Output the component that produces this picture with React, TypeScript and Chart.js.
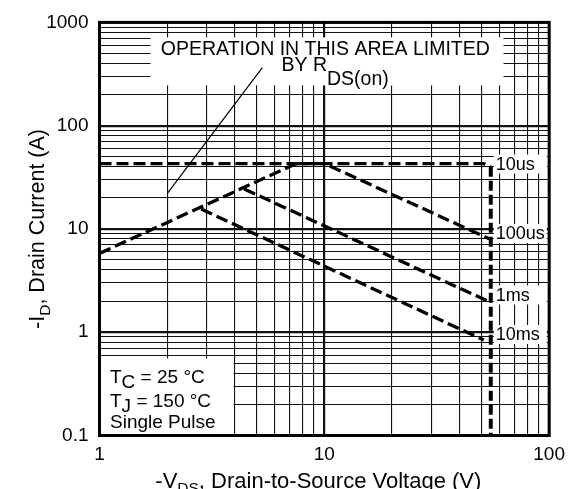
import React, { useEffect, useRef } from "react";
import { Chart, registerables } from "chart.js";

Chart.register(...registerables);

// ---- tick values ----
const X_TICKS = [1, 2, 3, 4, 5, 6, 7, 8, 9, 10, 20, 30, 40, 50, 60, 70, 80, 90, 100];
const Y_TICKS = [
  0.1, 0.2, 0.3, 0.4, 0.5, 0.6, 0.7, 0.8, 0.9,
  1, 2, 3, 4, 5, 6, 7, 8, 9,
  10, 20, 30, 40, 50, 60, 70, 80, 90,
  100, 200, 300, 400, 500, 600, 700, 800, 900, 1000,
];
const X_LABELS = [1, 10, 100];
const Y_LABELS = [0.1, 1, 10, 100, 1000];

// ---- series (V, A) ----
const RDS_LIMIT = [{ x: 1, y: 5.8 }, { x: 7.5, y: 43 }];
const PULSE_10US = [{ x: 1, y: 43 }, { x: 51, y: 43 }, { x: 55, y: 40 }];
const PULSE_10US_DROP = [{ x: 55, y: 40 }, { x: 55, y: 0.1 }];
const PULSE_100US = [{ x: 7.5, y: 43 }, { x: 10, y: 43 }, { x: 55, y: 7.9 }];
const PULSE_1MS = [{ x: 4.4, y: 24.4 }, { x: 55, y: 1.94 }];
const PULSE_10MS = [{ x: 2.83, y: 15.6 }, { x: 51.2, y: 0.84 }];
const LEADER = [{ x: 5.3, y: 365 }, { x: 2, y: 22 }];

const SERIES_LABELS = ["10us", "100us", "1ms", "10ms"];
const SERIES_ENDS = [43, 7.9, 1.94, 0.84];

const FONT = '"Liberation Sans", Arial, Helvetica, sans-serif';

type Part = { t: string; sub?: boolean };

function drawRich(
  ctx: CanvasRenderingContext2D,
  parts: Part[],
  x: number,
  y: number,
  size: number,
  subSize: number,
  subShift: number,
  align: "left" | "center"
) {
  const fMain = `${size}px ${FONT}`;
  const fSub = `${subSize}px ${FONT}`;
  let total = 0;
  for (const p of parts) {
    ctx.font = p.sub ? fSub : fMain;
    total += ctx.measureText(p.t).width;
  }
  let cx = align === "center" ? x - total / 2 : x;
  ctx.textAlign = "left";
  ctx.textBaseline = "alphabetic";
  for (const p of parts) {
    ctx.font = p.sub ? fSub : fMain;
    ctx.fillText(p.t, cx, p.sub ? y + subShift : y);
    cx += ctx.measureText(p.t).width;
  }
}

const isDecade = (v: number) => Math.abs(Math.log10(v) - Math.round(Math.log10(v))) < 1e-6;

const annotations = {
  id: "soaAnnotations",
  beforeDatasetsDraw(chart: any) {
    const { ctx, chartArea: a, scales } = chart;
    const xs = scales.x;
    const ys = scales.y;
    ctx.save();
    ctx.fillStyle = "#ffffff";
    // top annotation box
    ctx.fillRect(a.left + 51, a.top + 15, 353, 48);
    // conditions box
    ctx.fillRect(a.left, a.bottom - 77, 134, 77);
    // series label boxes
    const lx = xs.getPixelForValue(55) + 3;
    const offs = [6, -0.5, -2, 0];
    const baselines = SERIES_ENDS.map((v, i) => ys.getPixelForValue(v) + offs[i]);
    baselines.forEach((b) => ctx.fillRect(lx, b - 15, 53, 19));

    ctx.fillStyle = "#000000";
    SERIES_LABELS.forEach((lab, i) => {
      ctx.font = `18px ${FONT}`;
      ctx.textAlign = "left";
      ctx.textBaseline = "alphabetic";
      ctx.fillText(lab, lx + 2, baselines[i]);
    });

    // top text
    const cxp = (a.left + a.right) / 2;
    drawRich(ctx, [{ t: "OPERATION IN THIS AREA LIMITED" }], cxp + 1, a.top + 33, 19.5, 19.5, 0, "center");
    drawRich(ctx, [{ t: "BY R" }, { t: "DS(on)", sub: true }], a.left + 182, a.top + 49, 19.5, 19.5, 14, "left");

    // conditions text
    const tx = a.left + 10.5;
    drawRich(ctx, [{ t: "T" }, { t: "C", sub: true }, { t: " = 25 °C" }], tx, a.bottom - 52.5, 19, 19, 5, "left");
    drawRich(ctx, [{ t: "T" }, { t: "J", sub: true }, { t: " = 150 °C" }], tx, a.bottom - 29, 19, 19, 5, "left");
    drawRich(ctx, [{ t: "Single Pulse" }], tx, a.bottom - 8, 19, 19, 0, "left");
    ctx.restore();
  },
  afterDatasetsDraw(chart: any) {
    const { ctx, chartArea: a } = chart;
    ctx.save();
    ctx.strokeStyle = "#000";
    ctx.lineWidth = 3;
    ctx.strokeRect(a.left, a.top, a.right - a.left, a.bottom - a.top);
    ctx.restore();
  },
  afterDraw(chart: any) {
    const { ctx, chartArea: a } = chart;
    ctx.save();
    ctx.fillStyle = "#000";
    // x title
    drawRich(
      ctx,
      [{ t: "-V" }, { t: "DS", sub: true }, { t: ", Drain-to-Source Voltage (V)" }],
      (a.left + a.right) / 2 - 6,
      487.5,
      22,
      15.5,
      5,
      "center"
    );
    // y title
    ctx.translate(43.5, (a.top + a.bottom) / 2);
    ctx.rotate(-Math.PI / 2);
    drawRich(
      ctx,
      [{ t: "-I" }, { t: "D", sub: true }, { t: ", Drain Current (A)" }],
      0,
      0,
      21.5,
      15.5,
      6.5,
      "center"
    );
    ctx.restore();
  },
};

export default function App() {
  const ref = useRef<HTMLCanvasElement | null>(null);

  useEffect(() => {
    if (!ref.current) return;
    const dashed = (data: any[], dash: number[] = [12, 5], w = 3.3) => ({
      data,
      showLine: true,
      borderColor: "#000",
      backgroundColor: "#000",
      borderWidth: w,
      borderDash: dash,
      borderCapStyle: "butt",
      pointRadius: 0,
      fill: false,
      tension: 0,
    });
    const chart = new Chart(ref.current, {
      type: "scatter",
      data: {
        datasets: [
          dashed(RDS_LIMIT),
          dashed(PULSE_10US),
          dashed(PULSE_10US_DROP, [10, 4], 4),
          dashed(PULSE_100US),
          dashed(PULSE_1MS),
          dashed(PULSE_10MS),
          dashed(LEADER, [], 1.2),
        ] as any,
      },
      options: {
        animation: false,
        responsive: false,
        events: [],
        layout: { padding: { top: 19.5, right: 20.5, left: 0, bottom: 0 } },
        plugins: { legend: { display: false }, tooltip: { enabled: false }, title: { display: false } },
        scales: {
          x: {
            type: "logarithmic",
            min: 1,
            max: 100,
            afterBuildTicks: (s: any) => {
              s.ticks = X_TICKS.map((v) => ({ value: v }));
            },
            afterFit: (s: any) => {
              s.height = 53.5;
            },
            ticks: {
              autoSkip: false,
              maxRotation: 0,
              padding: 8,
              color: "#000",
              font: { family: FONT, size: 19 },
              callback: (v: any) => (X_LABELS.includes(Number(v)) ? String(v) : ""),
            },
            grid: {
              color: "#111",
              drawTicks: false,
              lineWidth: (c: any) => (c.tick && isDecade(c.tick.value) ? 2.2 : 1.1),
            },
            border: { display: false },
          },
          y: {
            type: "logarithmic",
            min: 0.1,
            max: 1000,
            afterBuildTicks: (s: any) => {
              s.ticks = Y_TICKS.map((v) => ({ value: v }));
            },
            afterFit: (s: any) => {
              s.width = 99.5;
            },
            ticks: {
              autoSkip: false,
              padding: 11,
              color: "#000",
              font: { family: FONT, size: 19 },
              callback: (v: any) =>
                Y_LABELS.some((l) => Math.abs(l - Number(v)) < 1e-9) ? String(v) : "",
            },
            grid: {
              color: "#111",
              drawTicks: false,
              lineWidth: (c: any) => (c.tick && isDecade(c.tick.value) ? 2.2 : 1.1),
            },
            border: { display: false },
          },
        },
      } as any,
      plugins: [annotations],
    });
    return () => chart.destroy();
  }, []);

  return (
    <div style={{ position: "absolute", left: 0, top: 0, width: 573, height: 489, background: "#fff" }}>
      <canvas ref={ref} width={573} height={489} style={{ width: 573, height: 489, display: "block" }} />
    </div>
  );
}
